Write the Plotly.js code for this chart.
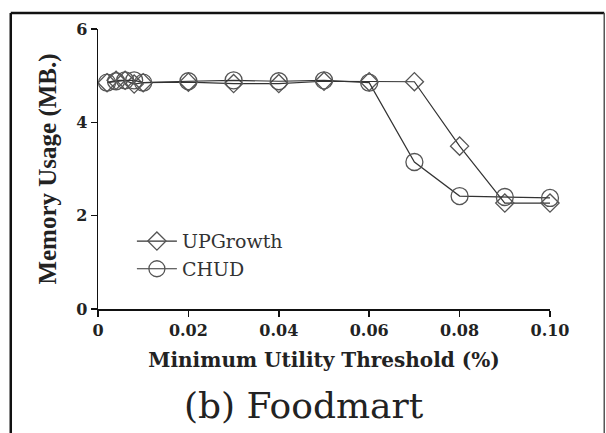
<!DOCTYPE html>
<html><head><meta charset="utf-8">
<script src="https://cdn.plot.ly/plotly-3.0.1.min.js"></script>
<style>html,body{margin:0;padding:0;background:#fff}#chart{width:606px;height:433px}</style>
</head><body><div id="chart"></div>
<script>
var thresholds = [0.002, 0.004, 0.006, 0.008, 0.01, 0.02, 0.03, 0.04, 0.05, 0.06, 0.07, 0.08, 0.09, 0.10];
var upgrowth   = [4.85, 4.90, 4.90, 4.82, 4.85, 4.86, 4.83, 4.83, 4.88, 4.87, 4.87, 3.49, 2.27, 2.27];
var chud       = [4.85, 4.88, 4.90, 4.90, 4.85, 4.88, 4.90, 4.88, 4.90, 4.85, 3.15, 2.42, 2.40, 2.38];
var xTickVals  = [0, 0.02, 0.04, 0.06, 0.08, 0.10];
var xTickText  = ["0", "0.02", "0.04", "0.06", "0.08", "0.10"];
var yTickVals  = [0, 2, 4, 6];
var yTickText  = ["0", "2", "4", "6"];

var traces = [
  {x: thresholds, y: upgrowth, name: "UPGrowth", type: "scatter", mode: "lines+markers",
   line: {color: "#333", width: 1.2},
   marker: {symbol: "diamond-open", size: 14, color: "#555", line: {width: 1.3, color: "#555"}},
   cliponaxis: false},
  {x: thresholds, y: chud, name: "CHUD", type: "scatter", mode: "lines+markers",
   line: {color: "#333", width: 1.2},
   marker: {symbol: "circle-open", size: 17, color: "#555", line: {width: 1.3, color: "#555"}},
   cliponaxis: false}
];

var layout = {
  width: 606, height: 433,
  margin: {l: 98, r: 56, t: 29, b: 124},
  paper_bgcolor: "#fff", plot_bgcolor: "#fff",
  showlegend: true,
  legend: {x: 0.075, y: 0.31, xanchor: "left", yanchor: "top", bgcolor: "rgba(0,0,0,0)",
           font: {family: "DejaVu Serif", size: 19, color: "#333"}, itemwidth: 40, tracegroupgap: 0},
  xaxis: {range: [0, 0.1], tickvals: xTickVals, ticktext: xTickText, showgrid: false, zeroline: false,
          showline: true, linecolor: "#111", linewidth: 1.5, ticks: "outside", ticklen: 6, tickwidth: 1.5, tickcolor: "#111",
          tickfont: {family: "DejaVu Serif", size: 16, color: "#222", weight: "bold"},
          title: {text: "Minimum Utility Threshold (%)", standoff: 14,
                  font: {family: "DejaVu Serif", size: 20, color: "#222", weight: "bold"}}},
  yaxis: {range: [0, 6], tickvals: yTickVals, ticktext: yTickText, showgrid: false, zeroline: false,
          showline: true, linecolor: "#111", linewidth: 1.5, ticks: "outside", ticklen: 6, tickwidth: 1.5, tickcolor: "#111",
          tickfont: {family: "DejaVu Serif", size: 16, color: "#222", weight: "bold"},
          title: {text: "Memory Usage (MB.)", standoff: 12,
                  font: {family: "Liberation Serif", size: 25, color: "#222", weight: "bold"}}},
  shapes: [
    {type: "line", xref: "paper", yref: "paper", x0: -0.193, x1: 1.12, y0: 1.057, y1: 1.057, line: {color: "#111", width: 2.5}},
    {type: "line", xref: "paper", yref: "paper", x0: -0.193, x1: -0.193, y0: 1.057, y1: -0.45, line: {color: "#111", width: 2.5}},
    {type: "line", xref: "paper", yref: "paper", x0: 1.12, x1: 1.12, y0: 1.057, y1: -0.45, line: {color: "#555", width: 1.5}}
  ],
  annotations: [
    {text: "(b) Foodmart", xref: "paper", yref: "paper", x: 0.456, y: -0.345, xanchor: "center", yanchor: "middle",
     showarrow: false, font: {family: "DejaVu Serif", size: 36, color: "#222"}}
  ]
};
Plotly.newPlot("chart", traces, layout, {displayModeBar: false, staticPlot: true});
</script></body></html>
